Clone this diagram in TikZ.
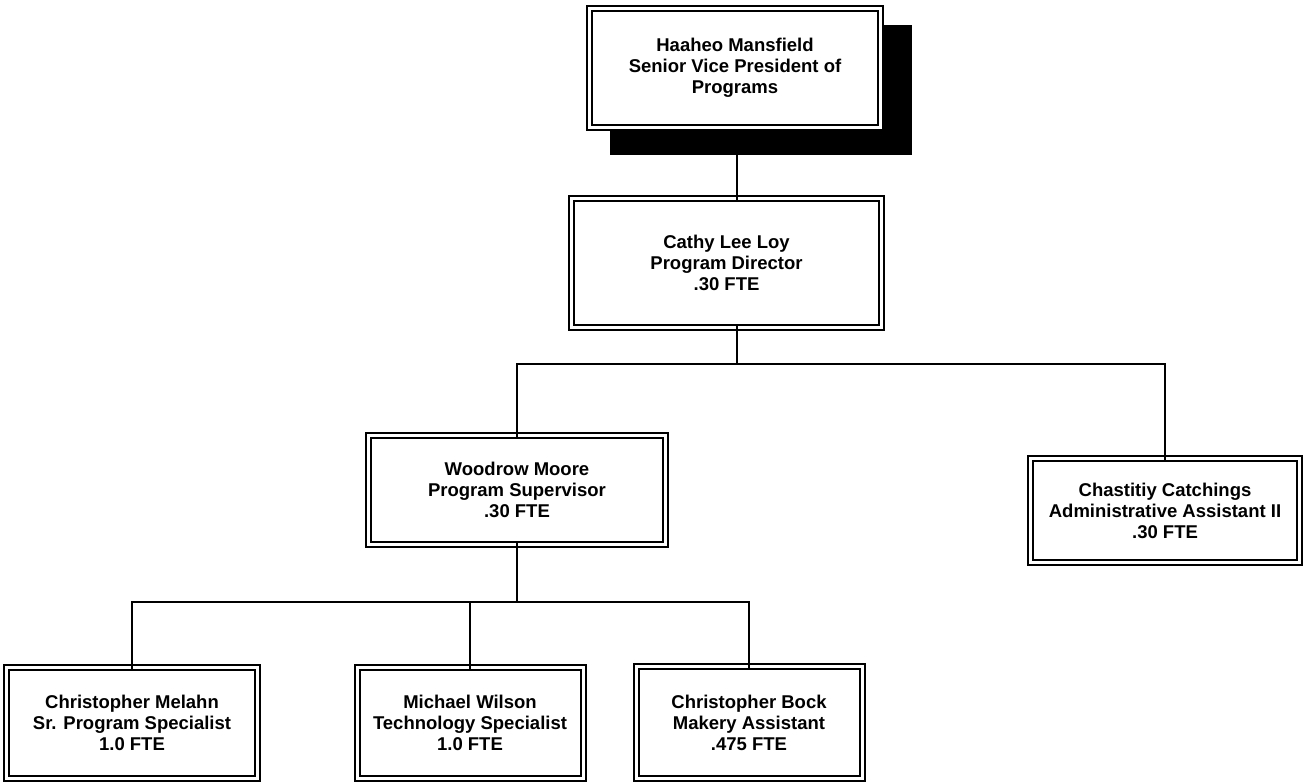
\documentclass[tikz,border=0pt]{standalone}
\usepackage{fontspec}
\setmainfont{Liberation Sans}
\begin{document}
\begin{tikzpicture}[x=1pt,y=-1pt,
  orgbox/.style={draw=black, double=white, double distance=3pt, line width=2pt,
    fill=white, align=center, inner sep=0pt,
    font=\fontsize{18.5}{21}\selectfont\bfseries},
  conn/.style={draw=black, line width=1.4pt}]
\useasboundingbox (0,0) rectangle (1306,783);
% shadow of top box
\fill[black] (610,25) rectangle (912,155);
\node[orgbox, minimum width=291pt, minimum height=119pt] (top) at (735,68)
  {Haaheo Mansfield\\Senior Vice President of\\Programs};
\node[orgbox, minimum width=310pt, minimum height=129pt] (cathy) at (726.5,263)
  {Cathy Lee Loy\\Program Director\\.30 FTE};
\node[orgbox, minimum width=297pt, minimum height=109pt] (woodrow) at (517,490)
  {Woodrow Moore\\Program Supervisor\\.30 FTE};
\node[orgbox, minimum width=269pt, minimum height=104pt] (chast) at (1165,510.5)
  {Chastitiy Catchings\\Administrative Assistant II\\.30 FTE};
\node[orgbox, minimum width=251pt, minimum height=111pt] (melahn) at (132,723)
  {Christopher Melahn\\Sr. Program Specialist\\1.0 FTE};
\node[orgbox, minimum width=226pt, minimum height=111pt] (wilson) at (470,723)
  {Michael Wilson\\Technology Specialist\\1.0 FTE};
\node[orgbox, minimum width=226pt, minimum height=112pt] (bock) at (749,722.5)
  {Christopher Bock\\Makery Assistant\\.475 FTE};
\coordinate (bus1) at (737,364);
\coordinate (bus2) at (517,602);
% connectors
\draw[conn] ([yshift=-2pt]top.south -| bus1) -- ([yshift=-3.5pt]cathy.north -| bus1);
\draw[conn] ([yshift=3.5pt]cathy.south -| bus1) -- (bus1);
\draw[conn] ([yshift=-3.5pt]woodrow.north) |- (bus1) -| ([yshift=-3.5pt]chast.north);
\draw[conn] ([yshift=3.5pt]woodrow.south) -- (bus2);
\draw[conn] ([yshift=-3.5pt]melahn.north) |- (bus2) -| ([yshift=-3.5pt]bock.north);
\draw[conn] ([yshift=-3.5pt]wilson.north) -- (wilson.north |- bus2);
\end{tikzpicture}
\end{document}
